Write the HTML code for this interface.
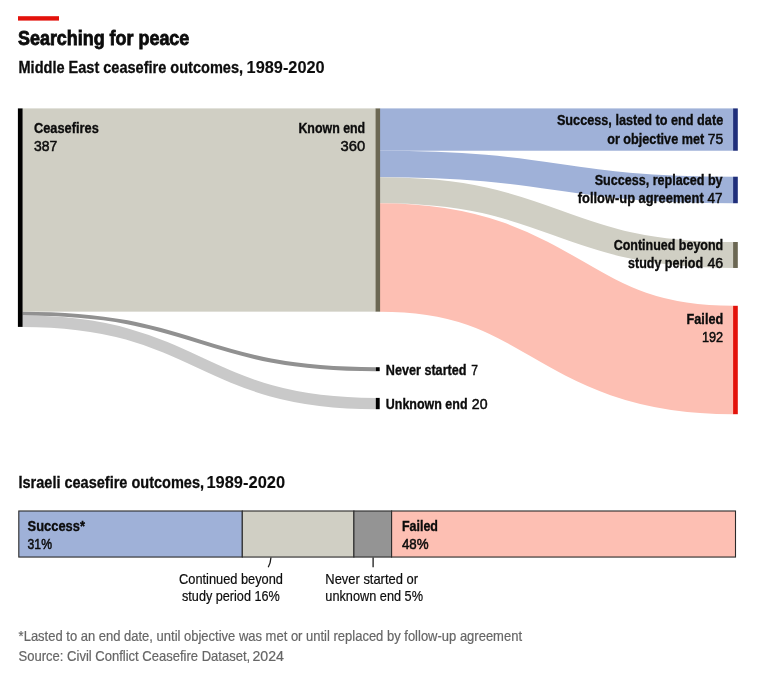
<!DOCTYPE html>
<html lang="en"><head><meta charset="utf-8"><title>Searching for peace</title>
<style>
html,body{margin:0;padding:0;background:#fff}
svg{display:block}
text{font-family:"Liberation Sans",Arial,sans-serif;fill:#0c0c0c}
text{stroke:#0c0c0c;stroke-width:.2px}
.b{font-weight:700;stroke:#0c0c0c;stroke-width:.35px}
.t{font-weight:700;stroke:#0c0c0c;stroke-width:.8px}
.s{font-weight:700;stroke-width:.3px}
.s2{font-weight:700;stroke-width:.1px}
.m{stroke:#0c0c0c;stroke-width:.5px}
</style></head><body>
<svg width="768" height="681" viewBox="0 0 768 681">
<rect width="768" height="681" fill="#fff"/>
<rect x="18" y="16.2" width="41" height="4.4" fill="#e3120b"/>
<rect x="22.5" y="108.4" width="353.5" height="203.26" fill="#d0cfc4"/>
<path d="M22.50,313.63C199.15,313.63 199.15,369.20 375.80,369.20" fill="none" stroke="#919191" stroke-width="3.95"/>
<path d="M22.50,321.25C199.15,321.25 199.15,403.55 375.80,403.55" fill="none" stroke="#c9c9c9" stroke-width="11.29"/>
<rect x="380" y="108.4" width="353.20000000000005" height="42.34" fill="#9fb1d8"/>
<path d="M380.00,164.01C556.60,164.01 556.60,189.97 733.20,189.97" fill="none" stroke="#9fb1d8" stroke-width="26.54"/>
<path d="M380.00,190.27C556.60,190.27 556.60,254.99 733.20,254.99" fill="none" stroke="#d0cfc4" stroke-width="25.97"/>
<path d="M380.00,257.45C556.60,257.45 556.60,360.00 733.20,360.00" fill="none" stroke="#fdbfb3" stroke-width="108.40"/>
<rect x="17.9" y="108.4" width="4.7" height="218.50" fill="#000"/>
<rect x="375.6" y="108.4" width="4.5" height="203.26" fill="#6b6753"/>
<rect x="375.8" y="367.22" width="3.9" height="3.95" fill="#000"/>
<rect x="375.8" y="397.90" width="3.9" height="11.29" fill="#000"/>
<rect x="733.1" y="108.4" width="4.7" height="42.34" fill="#1f2e7a"/>
<rect x="733.1" y="176.7" width="4.7" height="26.54" fill="#1f2e7a"/>
<rect x="733.1" y="242" width="4.7" height="25.97" fill="#6b6753"/>
<rect x="733.1" y="305.8" width="4.7" height="108.40" fill="#e3120b"/>
<rect x="18.8" y="511.0" width="223.5" height="46.05" fill="#9fb1d8" stroke="#2b2b2b" stroke-width="1.1"/>
<rect x="242.3" y="511.0" width="111.6" height="46.05" fill="#d0cfc4" stroke="#2b2b2b" stroke-width="1.1"/>
<rect x="353.9" y="511.0" width="37.7" height="46.05" fill="#949494" stroke="#2b2b2b" stroke-width="1.1"/>
<rect x="391.6" y="511.0" width="343.9" height="46.05" fill="#fdbfb3" stroke="#2b2b2b" stroke-width="1.1"/>
<path d="M270.95,557.5Q270.6,563 268.2,567.3" fill="none" stroke="#1a1a1a" stroke-width="1.3"/>
<path d="M373.1,557.5V567.2" fill="none" stroke="#1a1a1a" stroke-width="1.3"/>
<text x="18.0" y="44.8" font-size="19.8" text-anchor="start" textLength="171.3" lengthAdjust="spacingAndGlyphs" class="t">Searching for peace</text>
<text x="18.5" y="72.9" font-size="16" text-anchor="start" textLength="224.5" lengthAdjust="spacingAndGlyphs" class="s">Middle East ceasefire outcomes,</text>
<text x="246.6" y="72.9" font-size="16" text-anchor="start" textLength="78.1" lengthAdjust="spacingAndGlyphs" class="s2">1989-2020</text>
<text x="34.0" y="132.5" font-size="14.8" text-anchor="start" textLength="64.8" lengthAdjust="spacingAndGlyphs" class="b">Ceasefires</text>
<text x="34.0" y="151.0" font-size="14.8" text-anchor="start" textLength="23.3" lengthAdjust="spacingAndGlyphs" class="m">387</text>
<text x="298.4" y="132.5" font-size="14.8" text-anchor="start" textLength="66.8" lengthAdjust="spacingAndGlyphs" class="b">Known end</text>
<text x="340.6" y="151.0" font-size="14.8" text-anchor="start" textLength="24.6" lengthAdjust="spacingAndGlyphs" class="m">360</text>
<text x="556.9" y="125.4" font-size="14.8" text-anchor="start" textLength="166.3" lengthAdjust="spacingAndGlyphs" class="b">Success, lasted to end date</text>
<text x="607.2" y="143.6" font-size="14.8" text-anchor="start" textLength="97.0" lengthAdjust="spacingAndGlyphs" class="b">or objective met</text>
<text x="707.8" y="143.6" font-size="14.8" text-anchor="start" textLength="15.4" lengthAdjust="spacingAndGlyphs" class="m">75</text>
<text x="594.7" y="185.3" font-size="14.8" text-anchor="start" textLength="127.9" lengthAdjust="spacingAndGlyphs" class="b">Success, replaced by</text>
<text x="577.8" y="203.0" font-size="14.8" text-anchor="start" textLength="125.9" lengthAdjust="spacingAndGlyphs" class="b">follow-up agreement</text>
<text x="707.6" y="203.0" font-size="14.8" text-anchor="start" textLength="15.0" lengthAdjust="spacingAndGlyphs" class="m">47</text>
<text x="613.7" y="249.8" font-size="14.8" text-anchor="start" textLength="109.5" lengthAdjust="spacingAndGlyphs" class="b">Continued beyond</text>
<text x="628.0" y="268.1" font-size="14.8" text-anchor="start" textLength="75.1" lengthAdjust="spacingAndGlyphs" class="b">study period</text>
<text x="707.4" y="268.1" font-size="14.8" text-anchor="start" textLength="15.8" lengthAdjust="spacingAndGlyphs" class="m">46</text>
<text x="686.6" y="323.5" font-size="14.8" text-anchor="start" textLength="36.6" lengthAdjust="spacingAndGlyphs" class="b">Failed</text>
<text x="702.0" y="342.3" font-size="14.8" text-anchor="start" textLength="21.2" lengthAdjust="spacingAndGlyphs" class="m">192</text>
<text x="385.8" y="374.5" font-size="14.8" text-anchor="start" textLength="80.7" lengthAdjust="spacingAndGlyphs" class="b">Never started</text>
<text x="471.2" y="374.5" font-size="14.8" text-anchor="start" textLength="6.7" lengthAdjust="spacingAndGlyphs" class="m">7</text>
<text x="385.8" y="408.9" font-size="14.8" text-anchor="start" textLength="81.7" lengthAdjust="spacingAndGlyphs" class="b">Unknown end</text>
<text x="471.8" y="408.9" font-size="14.8" text-anchor="start" textLength="15.7" lengthAdjust="spacingAndGlyphs" class="m">20</text>
<text x="18.5" y="487.6" font-size="16" text-anchor="start" textLength="185.5" lengthAdjust="spacingAndGlyphs" class="s">Israeli ceasefire outcomes,</text>
<text x="206.4" y="487.6" font-size="16" text-anchor="start" textLength="78.7" lengthAdjust="spacingAndGlyphs" class="s2">1989-2020</text>
<text x="27.6" y="530.7" font-size="14.8" text-anchor="start" textLength="57.4" lengthAdjust="spacingAndGlyphs" class="b">Success*</text>
<text x="27.6" y="548.9" font-size="14.8" text-anchor="start" textLength="24.4" lengthAdjust="spacingAndGlyphs" class="m">31%</text>
<text x="401.9" y="530.5" font-size="14.8" text-anchor="start" textLength="36.1" lengthAdjust="spacingAndGlyphs" class="b">Failed</text>
<text x="401.9" y="548.5" font-size="14.8" text-anchor="start" textLength="26.7" lengthAdjust="spacingAndGlyphs" class="m">48%</text>
<text x="179.0" y="583.7" font-size="14.8" text-anchor="start" textLength="104.0" lengthAdjust="spacingAndGlyphs">Continued beyond</text>
<text x="182.0" y="600.9" font-size="14.8" text-anchor="start" textLength="97.8" lengthAdjust="spacingAndGlyphs">study period 16%</text>
<text x="325.3" y="583.7" font-size="14.8" text-anchor="start" textLength="92.7" lengthAdjust="spacingAndGlyphs">Never started or</text>
<text x="325.3" y="600.9" font-size="14.8" text-anchor="start" textLength="97.7" lengthAdjust="spacingAndGlyphs">unknown end 5%</text>
<text x="18.6" y="640.8" font-size="14.3" text-anchor="start" textLength="503.4" lengthAdjust="spacingAndGlyphs" style="fill:#666;stroke:#666">*Lasted to an end date, until objective was met or until replaced by follow-up agreement</text>
<text x="18.6" y="661.0" font-size="14.3" text-anchor="start" textLength="231.6" lengthAdjust="spacingAndGlyphs" style="fill:#666;stroke:#666">Source: Civil Conflict Ceasefire Dataset,</text>
<text x="252.4" y="661.0" font-size="14.3" text-anchor="start" textLength="31.5" lengthAdjust="spacingAndGlyphs" style="fill:#666;stroke:#666">2024</text>
</svg>
</body></html>
